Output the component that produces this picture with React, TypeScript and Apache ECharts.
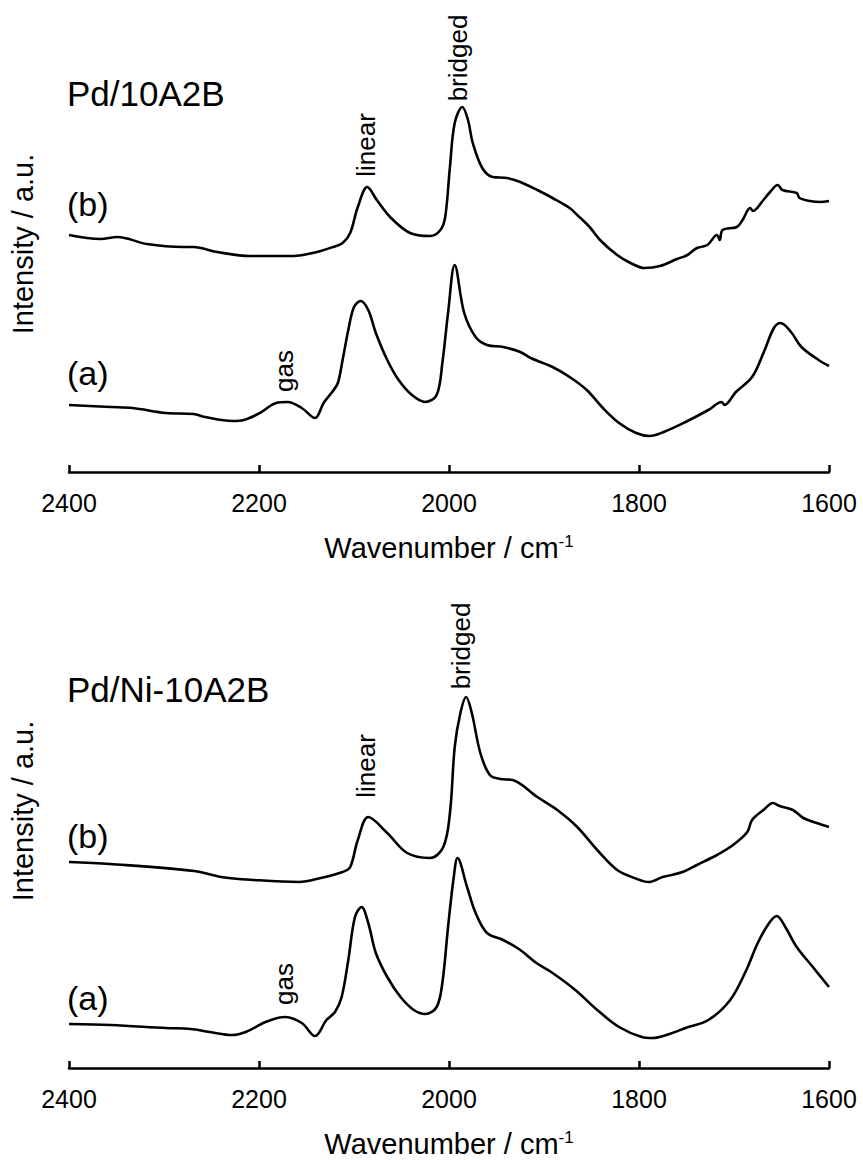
import React, { useEffect, useRef } from "react";
import * as echarts from "echarts";

const FONT = "'Liberation Sans', Arial, Helvetica, sans-serif";

// x axis ticks (wavenumber, cm-1), axis drawn inverted (2400 -> 1600)
const xTicks = [2400, 2200, 2000, 1800, 1600];

const topTitle = "Pd/10A2B";
const bottomTitle = "Pd/Ni-10A2B";
const axisNameX = "Wavenumber / cm{sup|-1}";
const axisNameY = "Intensity / a.u.";

// ---- Top panel: Pd/10A2B ----
// (a)
const topWnA = [2400, 2356, 2333, 2298, 2269, 2257, 2228, 2216, 2199, 2182, 2170, 2155, 2141, 2132, 2123, 2117, 2112, 2106, 2100, 2093, 2085, 2077, 2065, 2053, 2039, 2025, 2013, 2007, 2001, 1994, 1984, 1972, 1960, 1943, 1925, 1914, 1891, 1873, 1855, 1838, 1821, 1803, 1789, 1774, 1751, 1727, 1713, 1710, 1698, 1681, 1669, 1658, 1651, 1640, 1629, 1611, 1600];
const topIntA = [67, 65, 64, 59, 58, 55, 51, 52, 59, 69, 70, 64, 54, 69, 80, 89, 112, 142, 165, 171, 162, 139, 112, 92, 77, 70, 77, 109, 159, 207, 159, 135, 127, 125, 120, 114, 105, 95, 82, 64, 49, 39, 36, 40, 50, 62, 70, 67, 80, 95, 119, 144, 149, 140, 125, 112, 106];
// (b)
const topWnB = [2400, 2367, 2349, 2318, 2280, 2269, 2244, 2209, 2164, 2139, 2122, 2112, 2104, 2096, 2086, 2076, 2062, 2041, 2020, 2009, 2004, 1999, 1994, 1986, 1980, 1975, 1965, 1954, 1939, 1925, 1907, 1891, 1873, 1865, 1852, 1841, 1823, 1809, 1794, 1778, 1760, 1749, 1739, 1728, 1718, 1715, 1712, 1697, 1691, 1683, 1680, 1669, 1662, 1654, 1649, 1634, 1631, 1620, 1609, 1600];
const topIntB = [237, 233, 235, 228, 225, 225, 220, 216, 216, 220, 225, 229, 239, 265, 285, 272, 255, 239, 236, 242, 255, 305, 349, 365, 352, 329, 304, 295, 294, 290, 282, 274, 264, 257, 245, 232, 217, 209, 204, 206, 213, 217, 224, 227, 237, 232, 242, 245, 252, 264, 261, 272, 280, 287, 282, 279, 274, 271, 270, 271];

// ---- Bottom panel: Pd/Ni-10A2B ----
// (a)
const botWnA = [2400, 2356, 2298, 2272, 2252, 2228, 2214, 2193, 2173, 2155, 2141, 2129, 2120, 2113, 2106, 2099, 2092, 2085, 2077, 2065, 2051, 2037, 2025, 2013, 2007, 2001, 1995, 1991, 1981, 1972, 1960, 1943, 1925, 1908, 1891, 1867, 1844, 1821, 1797, 1786, 1768, 1751, 1727, 1704, 1687, 1675, 1663, 1655, 1646, 1634, 1617, 1600];
const botIntA = [44, 43, 40, 39, 36, 33, 36, 46, 51, 45, 32, 48, 56, 71, 108, 151, 161, 145, 115, 91, 71, 58, 54, 61, 85, 141, 191, 210, 181, 155, 135, 128, 118, 105, 95, 78, 58, 41, 31, 30, 34, 40, 48, 68, 98, 125, 145, 152, 141, 121, 101, 81];
// (b)
const botWnB = [2400, 2357, 2268, 2240, 2205, 2158, 2135, 2112, 2104, 2096, 2085, 2065, 2044, 2020, 2006, 1999, 1994, 1988, 1982, 1976, 1967, 1957, 1946, 1933, 1907, 1886, 1865, 1844, 1823, 1802, 1790, 1775, 1754, 1739, 1718, 1701, 1686, 1681, 1669, 1659, 1652, 1638, 1627, 1613, 1600];
const botIntB = [206, 204, 197, 191, 188, 186, 190, 196, 201, 228, 251, 235, 215, 210, 221, 255, 321, 355, 371, 355, 315, 293, 289, 288, 271, 258, 241, 218, 198, 189, 186, 191, 196, 203, 213, 223, 236, 248, 258, 265, 262, 258, 250, 245, 241];

const zip = (xs: number[], ys: number[]) => xs.map((x, i) => [x, ys[i]]);

export default function App() {
  const ref = useRef<HTMLDivElement>(null);

  useEffect(() => {
    document.body.style.margin = "0";
    document.body.style.overflow = "hidden";
    const chart = echarts.init(ref.current!, null, { renderer: "svg" });

    const makeX = (gridIndex: number) => ({
      type: "value",
      gridIndex,
      min: xTicks[xTicks.length - 1],
      max: xTicks[0],
      interval: xTicks[0] - xTicks[1],
      inverse: true,
      axisLine: { show: true, onZero: false, lineStyle: { color: "#000", width: 2.5 } },
      axisTick: { show: true, inside: true, length: 7, lineStyle: { color: "#000", width: 2.5 } },
      axisLabel: {
        show: true,
        margin: 18,
        fontSize: 25,
        color: "#000",
        fontFamily: FONT,
        showMinLabel: true,
        showMaxLabel: true,
        formatter: (v: number) => String(v),
      },
      splitLine: { show: false },
      name: axisNameX,
      nameLocation: "middle",
      nameGap: 61,
      nameTextStyle: {
        fontSize: 29,
        color: "#000",
        fontFamily: FONT,
        rich: {
          sup: { fontSize: 17, color: "#000", fontFamily: FONT, verticalAlign: "top" },
        },
      },
    });

    const makeY = (gridIndex: number, max: number) => ({
      type: "value",
      gridIndex,
      min: 0,
      max,
      axisLine: { show: false },
      axisTick: { show: false },
      axisLabel: { show: false },
      splitLine: { show: false },
      name: axisNameY,
      nameLocation: "middle",
      nameRotate: 90,
      nameGap: 32,
      nameTextStyle: { fontSize: 29, color: "#000", fontFamily: FONT },
    });

    const lineSeries = (idx: number, data: number[][]) => ({
      type: "line",
      xAxisIndex: idx,
      yAxisIndex: idx,
      data,
      symbol: "none",
      showSymbol: false,
      smooth: 0.35,
      lineStyle: { color: "#000", width: 2.6 },
      itemStyle: { color: "#000" },
    });

    const txt = (text: string, x: number, y: number, fontSize: number, rotate = false) => ({
      type: "text",
      x,
      y,
      rotation: rotate ? Math.PI / 2 : 0,
      style: {
        text,
        fontSize,
        fontFamily: FONT,
        fill: "#000",
        align: rotate ? "center" : "left",
        verticalAlign: "middle",
      },
    });

    chart.setOption({
      animation: false,
      backgroundColor: "#fff",
      textStyle: { fontFamily: FONT },
      grid: [
        { left: 69, right: 34, top: 16, height: 456 },
        { left: 69, right: 34, top: 554, height: 514 },
      ],
      xAxis: [makeX(0), makeX(1)],
      yAxis: [makeY(0, 456), makeY(1, 514)],
      series: [
        lineSeries(0, zip(topWnA, topIntA)),
        lineSeries(0, zip(topWnB, topIntB)),
        lineSeries(1, zip(botWnA, botIntA)),
        lineSeries(1, zip(botWnB, botIntB)),
      ],
      graphic: [
        txt(topTitle, 67, 93, 35),
        txt("(b)", 67, 204, 34),
        txt("(a)", 67, 373, 34),
        txt("linear", 366, 145, 26, true),
        txt("bridged", 458, 58, 26, true),
        txt("gas", 284, 371, 26, true),
        txt(bottomTitle, 67, 689, 35),
        txt("(b)", 67, 836, 34),
        txt("(a)", 67, 998, 34),
        txt("linear", 366, 766, 26, true),
        txt("bridged", 461, 646, 26, true),
        txt("gas", 284, 984, 26, true),
      ],
    });

    return () => chart.dispose();
  }, []);

  return <div ref={ref} style={{ width: 863, height: 1160 }} />;
}
